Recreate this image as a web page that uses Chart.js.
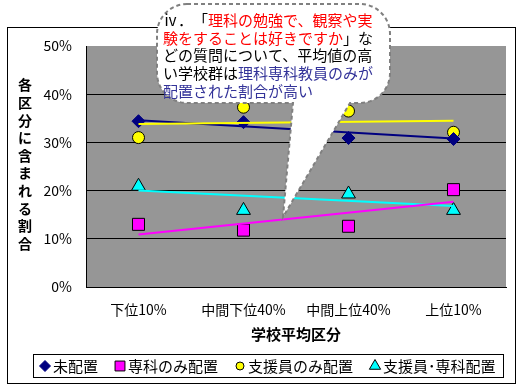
<!DOCTYPE html>
<html>
<head>
<meta charset="utf-8">
<script src="https://cdn.jsdelivr.net/npm/chart.js@4.4.0/dist/chart.umd.min.js"></script>
<style>
  html, body { margin: 0; padding: 0; background: #fff; }
  canvas { display: block; }
</style>
</head>
<body>
<canvas id="schoolChart" width="523" height="390"></canvas>
<script>
// values (percent)
const categories = ['下位10%', '中間下位40%', '中間上位40%', '上位10%'];
const seriesNames = ['未配置', '専科のみ配置', '支援員のみ配置', '支援員･専科配置'];
const notAssigned = [34.4, 34.2, 30.9, 30.7];
const specialistOnly = [13.0, 11.8, 12.6, 20.2];
const supportOnly = [31.0, 37.3, 36.5, 32.1];
const supportAndSpecialist = [20.9, 15.9, 19.3, 15.9];
// trend lines as drawn in the reference (start / end)
const notAssignedTrend = [34.6, null, null, 30.8];
const specialistOnlyTrend = [10.9, null, null, 17.7];
const supportOnlyTrend = [33.8, null, null, 34.5];
const supportAndSpecialistTrend = [20.0, null, null, 16.8];

const yTitle = '各区分に含まれる割合';
const xTitle = '学校平均区分';
const noteLines = [
  [['ⅳ．', '#000'], ['「', '#000'], ['理科の勉強で、観察や実', '#ff0000']],
  [['験をすることは好きですか', '#ff0000'], ['」な', '#000']],
  [['どの質問について、平均値の高', '#000']],
  [['い学校群は', '#000'], ['理科専科教員のみが', '#333399']],
  [['配置された割合が高い', '#333399']]
];

const jp = '"Noto Sans CJK JP", "Noto Sans", sans-serif';

const frame = {
  id: 'frame',
  beforeDraw(chart) {
    const ctx = chart.ctx, a = chart.chartArea;
    ctx.save();
    ctx.fillStyle = '#fff';
    ctx.fillRect(0, 0, chart.width, chart.height);
    ctx.fillStyle = '#969696';
    ctx.fillRect(a.left, a.top, a.right - a.left, a.bottom - a.top);
    ctx.strokeStyle = '#000';
    ctx.lineWidth = 1;
    ctx.strokeRect(7.5, 27.5, 508, 356);
    ctx.restore();
  },
  afterDraw(chart) {
    const ctx = chart.ctx;
    ctx.save();
    // vertical y title
    ctx.fillStyle = '#000';
    ctx.font = 'bold 14px ' + jp;
    ctx.textAlign = 'center';
    ctx.textBaseline = 'middle';
    [...yTitle].forEach((ch, i) => ctx.fillText(ch, 25, 85 + i * 17.6));

    // legend box
    ctx.strokeStyle = '#000';
    ctx.lineWidth = 1;
    ctx.strokeRect(33.5, 354.5, 470, 23);
    ctx.font = '15px ' + jp;
    ctx.textAlign = 'left';
    const markers = chart.data.datasets.filter(d => d.showLine === false);
    let x = 39;
    markers.forEach((d, i) => {
      ctx.fillStyle = d.backgroundColor;
      ctx.strokeStyle = d.borderColor;
      ctx.lineWidth = 1;
      Chart.helpers.drawPoint(ctx, { pointStyle: d.pointStyle, radius: d.legendRadius, borderWidth: 1 }, x + 6, 366);
      ctx.fillStyle = '#000';
      ctx.fillText(seriesNames[i], x + 14, 366);
      x += 14 + ctx.measureText(seriesNames[i]).width + 16;
    });

    // speech bubble
    const L = 157, T = 4, R = 390, B = 103, rr = 30;
    ctx.beginPath();
    ctx.moveTo(L + rr, T);
    ctx.lineTo(R - rr, T);
    ctx.arcTo(R, T, R, T + rr, rr);
    ctx.lineTo(R, B - rr);
    ctx.arcTo(R, B, R - rr, B, rr);
    ctx.lineTo(350, B);
    ctx.lineTo(283, 217);
    ctx.lineTo(293, B);
    ctx.lineTo(L + rr, B);
    ctx.arcTo(L, B, L, B - rr, rr);
    ctx.lineTo(L, T + rr);
    ctx.arcTo(L, T, L + rr, T, rr);
    ctx.closePath();
    ctx.fillStyle = '#fff';
    ctx.fill();
    ctx.setLineDash([4, 3]);
    ctx.strokeStyle = '#808080';
    ctx.lineWidth = 2;
    ctx.stroke();
    ctx.setLineDash([]);

    ctx.font = '15px ' + jp;
    noteLines.forEach((parts, i) => {
      let tx = 163;
      parts.forEach(([txt, col], j) => {
        // first line: gap before the opening bracket, as in the reference
        if (i === 0 && j === 1) tx = Math.max(tx, 193);
        ctx.fillStyle = col;
        ctx.fillText(txt, tx, 20.5 + i * 17.6);
        tx += ctx.measureText(txt).width;
      });
    });
    ctx.restore();
  }
};

function markerSet(data, style, fill, border, radius, legendRadius, order) {
  return {
    data, showLine: false, pointStyle: style,
    backgroundColor: fill, borderColor: border, pointBorderWidth: 1,
    pointRadius: radius, legendRadius, order
  };
}
function trendSet(data, color, order) {
  return {
    data, borderColor: color, borderWidth: 2, pointRadius: 0,
    spanGaps: true, fill: false, order
  };
}

new Chart(document.getElementById('schoolChart'), {
  type: 'line',
  data: {
    labels: categories,
    datasets: [
      markerSet(notAssigned, 'rectRot', '#000080', '#000080', 6.5, 5.5, 5),
      markerSet(specialistOnly, 'rect', '#ff00ff', '#000', 8.5, 7, 6),
      markerSet(supportOnly, 'circle', '#ffff00', '#000', 6, 4, 7),
      markerSet(supportAndSpecialist, 'triangle', '#00ffff', '#000', 8, 6.5, 8),
      trendSet(notAssignedTrend, '#000080', 3),
      trendSet(specialistOnlyTrend, '#ff00ff', 2),
      trendSet(supportOnlyTrend, '#ffff00', 1),
      trendSet(supportAndSpecialistTrend, '#00ffff', 4)
    ]
  },
  options: {
    responsive: false,
    animation: false,
    devicePixelRatio: 1,
    layout: { padding: { top: 46, right: 17, left: 0, bottom: 0 } },
    plugins: { legend: { display: false }, tooltip: { enabled: false } },
    scales: {
      x: {
        offset: true,
        grid: { display: false, drawTicks: false },
        border: { color: '#000', width: 1 },
        ticks: { color: '#000', font: { family: jp, size: 14 }, padding: 14, maxRotation: 0 },
        title: { display: true, text: xTitle, color: '#000', font: { family: jp, size: 15, weight: 'bold' }, padding: { bottom: 47 } },
        afterFit(scale) { scale.height = 103; }
      },
      y: {
        min: 0, max: 50,
        grid: { color: c => c.tick.value === 50 ? 'rgba(0,0,0,0)' : '#000', drawTicks: false },
        border: { color: '#000', width: 1 },
        ticks: { stepSize: 10, color: '#000', font: { family: jp, size: 14 }, padding: 14, callback: v => v + '%' },
        afterFit(scale) { scale.width = 86; }
      }
    }
  },
  plugins: [frame]
});
</script>
</body>
</html>
